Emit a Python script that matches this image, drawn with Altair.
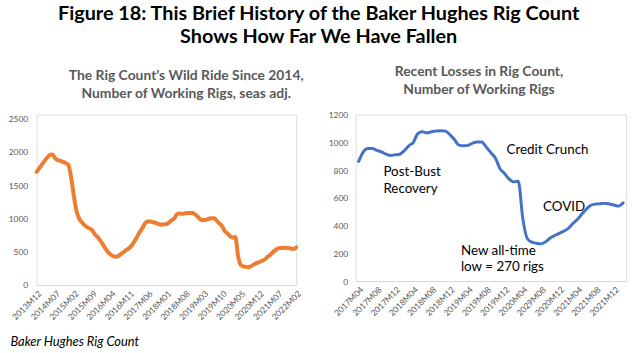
import altair as alt
import pandas as pd

FONT = "Lato"
GRAY = "#595959"
AXIS_LINE = "#D9D9D9"


def month_labels(start_year, start_month, n):
    out = []
    y, m = start_year, start_month
    for _ in range(n):
        out.append(f"{y}M{m:02d}")
        m += 1
        if m > 12:
            m = 1
            y += 1
    return out


# Left panel: monthly rig count, 2013M12 .. 2022M02 (seasonally adjusted)
left_values = [
    1700, 1755, 1810, 1865, 1915, 1955, 1960, 1900, 1875, 1865,
    1850, 1830, 1800, 1620, 1350, 1120, 1000, 945, 900, 870,
    850, 820, 760, 720, 670, 610, 545, 490, 455, 430,
    425, 440, 470, 500, 530, 555, 600, 660, 730, 800,
    862, 930, 955, 955, 942, 932, 915, 905, 910, 914,
    940, 975, 1000, 1064, 1076, 1068, 1076, 1082, 1083, 1081,
    1055, 1020, 980, 975, 978, 995, 1003, 1002, 965, 925,
    886, 810, 775, 735, 715, 720, 450, 305, 280, 272,
    268, 283, 310, 328, 343, 360, 380, 415, 445, 485,
    520, 548, 555, 557, 560, 555, 548, 540, 564,
]

# Right panel: monthly rig count, 2017M04 .. 2022M02
right_values = [
    862, 930, 955, 955, 942, 932, 915, 905, 910, 914,
    940, 975, 1000, 1064, 1076, 1068, 1076, 1082, 1083, 1081,
    1055, 1020, 980, 975, 978, 995, 1003, 1002, 965, 925,
    886, 810, 775, 735, 715, 720, 450, 305, 280, 272,
    268, 283, 310, 328, 343, 360, 380, 415, 445, 485,
    520, 548, 555, 557, 560, 555, 548, 540, 564,
]

left_months = month_labels(2013, 12, len(left_values))
right_months = month_labels(2017, 4, len(right_values))

left_tick_labels = left_months[::7]
right_tick_labels = right_months[::4]
left_y_ticks = [0, 500, 1000, 1500, 2000, 2500]
right_y_ticks = [0, 200, 400, 600, 800, 1000, 1200]

ann_text = ["Post-Bust", "Recovery", "Credit Crunch", "COVID", "New all-time", "low = 270 rigs"]
ann_month = ["2017M09", "2017M09", "2019M12", "2020M08", "2019M02", "2019M02"]
ann_value = [786, 664, 948, 533, 219, 100]

main_title = ["Figure 18: This Brief History of the Baker Hughes Rig Count",
              "Shows How Far We Have Fallen"]
left_title = ["The Rig Count\u2019s Wild Ride Since 2014,", "Number of Working Rigs, seas adj."]
right_title = ["Recent Losses in Rig Count,", "Number of Working Rigs"]
source_text = "Baker Hughes Rig Count"

left_df = pd.DataFrame({"month": left_months, "rigs": left_values})
right_df = pd.DataFrame({"month": right_months, "rigs": right_values})
ann_df = pd.DataFrame({"month": ann_month, "rigs": ann_value, "label": ann_text})

left = alt.Chart(left_df).mark_line(
    color="#ED7D31", strokeWidth=4, interpolate="monotone", strokeCap="round"
).encode(
    x=alt.X("month:O", sort=None,
            scale=alt.Scale(type="point", padding=0, domain=left_months),
            axis=alt.Axis(values=left_tick_labels, labelAngle=-45, ticks=False,
                          domainColor=AXIS_LINE, labelColor=GRAY, labelFont=FONT,
                          labelFontSize=8.5, labelPadding=4,
                          title=source_text, titleX=-27, titleY=57, titleAlign="left",
                          titleAngle=0, titleBaseline="middle", titleFont=FONT,
                          titleFontSize=13, titleFontStyle="italic",
                          titleFontWeight="normal", titleColor="black")),
    y=alt.Y("rigs:Q",
            scale=alt.Scale(domain=[0, 2500], range=[172, 4], nice=False),
            axis=alt.Axis(values=left_y_ticks, format="d", grid=False, domain=False,
                          ticks=False, labelOverlap=False,
                          labelColor=GRAY, labelFont=FONT, labelFontSize=8.5,
                          labelPadding=9, title=None)),
).properties(
    width=262, height=172,
    title=alt.TitleParams(left_title, font=FONT, fontSize=14, fontWeight="bold",
                          color=GRAY, lineHeight=18, anchor="middle", dx=20, offset=14),
)

right_x = alt.X("month:O", sort=None,
                scale=alt.Scale(type="point", padding=0.65, domain=right_months),
                axis=alt.Axis(values=right_tick_labels, labelAngle=-45, ticks=False,
                              domainColor=AXIS_LINE, labelColor=GRAY, labelFont=FONT,
                              labelFontSize=8.5, labelPadding=4, title=None,
                              labelExpr="datum.value == '2020M08' ? '2029M08' : datum.value"))
right_y = alt.Y("rigs:Q",
                scale=alt.Scale(domain=[0, 1200], nice=False),
                axis=alt.Axis(values=right_y_ticks, format="d", grid=False, domain=False,
                              ticks=False, labelOverlap=False, labelBound=False,
                              labelColor=GRAY, labelFont=FONT, labelFontSize=8.5,
                              labelPadding=8, title=None))

right_line = alt.Chart(right_df).mark_line(
    color="#4472C4", strokeWidth=3, interpolate="monotone", strokeCap="round"
).encode(x=right_x, y=right_y)

right_text = alt.Chart(ann_df).mark_text(
    align="left", baseline="middle", font=FONT, fontSize=13.5, color="black", dx=2
).encode(x=right_x, y=right_y, text="label:N")

right = alt.layer(right_line, right_text).properties(
    width=273, height=168,
    title=alt.TitleParams(right_title, font=FONT, fontSize=14, fontWeight="bold",
                          color=GRAY, lineHeight=18, anchor="middle", dx=-12, offset=14),
)

chart = alt.hconcat(left, right, spacing=60, bounds="flush").properties(
    title=alt.TitleParams(main_title, font=FONT, fontSize=20, fontWeight="bold",
                          color="black", lineHeight=23, anchor="middle", offset=18),
    padding={"left": 7, "top": 2, "right": 9, "bottom": 5},
).configure_view(stroke=None).configure(background="white")

chart.save("out.html", embed_options={"renderer": "svg", "actions": False})
